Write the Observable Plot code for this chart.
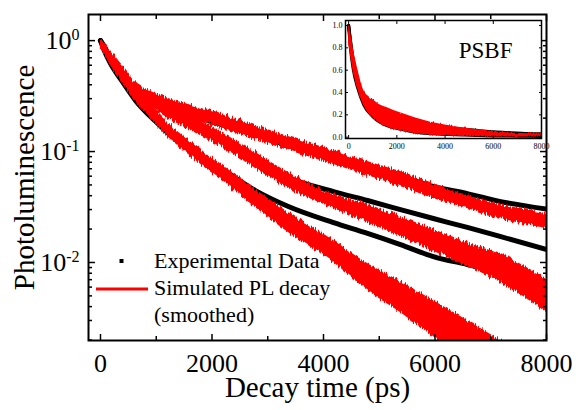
<!DOCTYPE html>
<html><head><meta charset="utf-8">
<script src="https://cdn.jsdelivr.net/npm/d3@7"></script>
<script src="https://cdn.jsdelivr.net/npm/@observablehq/plot@0.6"></script>
<style>
html,body{margin:0;padding:0;background:#fff;}
#wrap{position:relative;width:578px;height:410px;font-family:'Liberation Serif','Times New Roman',serif;}
#wrap > svg{position:absolute;left:0;top:0;}
#wrap > .inset{position:absolute;left:320px;top:14px;}
</style></head><body>
<div id="wrap"></div>
<script>
// ---- data (time in ps, PL normalised) ----
const time = [0, 60, 180, 380, 630, 990, 1220, 1580, 2170, 2780, 3370, 4180, 4790, 5380, 5970, 6580, 7180, 8000];
// experimental data (black)
const expA = [1.000, 0.9015, 0.6886, 0.5043, 0.3471, 0.2820, 0.2491, 0.2154, 0.1751, 0.1422, 0.1132, 0.0865, 0.0703, 0.0595, 0.0484, 0.0418, 0.0354, 0.0303];
const expB = [1.000, 0.8830, 0.7031, 0.5149, 0.3471, 0.2597, 0.2245, 0.1788, 0.1282, 0.0847, 0.0583, 0.0436, 0.0362, 0.0300, 0.0249, 0.0207, 0.0171, 0.0131];
const expC = [1.000, 0.8296, 0.6207, 0.4362, 0.2880, 0.1864, 0.1453, 0.1042, 0.0703, 0.0445, 0.0320, 0.0229, 0.0183, 0.0145, 0.0113, 0.00959, 0.00813, 0.00583];
// simulated PL decay (red, noisy band: upper and lower edge)
const sim1Hi = [1.021, 0.9594, 0.8126, 0.6079, 0.4184, 0.3400, 0.3002, 0.2651, 0.2154, 0.1715, 0.1365, 0.1021, 0.0813, 0.0660, 0.0515, 0.0401, 0.0333, 0.0276];
const sim1Lo = [0.8296, 0.7796, 0.6337, 0.4739, 0.3262, 0.2651, 0.2340, 0.1983, 0.1611, 0.1282, 0.1021, 0.0764, 0.0608, 0.0484, 0.0377, 0.0307, 0.0249, 0.0202];
const sim2Hi = [1.021, 0.9594, 0.7959, 0.5955, 0.4014, 0.3002, 0.2651, 0.2110, 0.1483, 0.0979, 0.0647, 0.0410, 0.0333, 0.0260, 0.0198, 0.0151, 0.0118, 0.00718];
const sim2Lo = [0.8296, 0.7796, 0.6207, 0.4642, 0.3130, 0.2340, 0.1983, 0.1578, 0.1109, 0.0703, 0.0464, 0.0307, 0.0229, 0.0171, 0.0126, 0.00920, 0.00660, 0.00354];
const sim3Hi = [1.021, 0.9397, 0.7636, 0.5480, 0.3619, 0.2340, 0.1788, 0.1256, 0.0764, 0.0455, 0.0282, 0.0158, 0.00979, 0.00674, 0.00455, 0.00300, 0.00198, 0.00118];
const sim3Lo = [0.8296, 0.7636, 0.5955, 0.4272, 0.2820, 0.1751, 0.1337, 0.0940, 0.0548, 0.0313, 0.0186, 0.0100, 0.00560, 0.00354, 0.00215, 0.00131, 0.000865, 0.000464];

// ticks
const xMajor = [0, 2000, 4000, 6000, 8000];
const xTickLabels = ["0", "2000", "4000", "6000", "8000"];
const xMinor = [1000, 3000, 5000, 7000];
const yMajor = [0.01, 0.1, 1];
const yTickExp = ["-2", "-1", "0"];
const yMinor = [0.002,0.003,0.004,0.005,0.006,0.007,0.008,0.009,0.02,0.03,0.04,0.05,0.06,0.07,0.08,0.09,0.2,0.3,0.4,0.5,0.6,0.7,0.8,0.9];
const insetXTicks = [0, 2000, 4000, 6000, 8000];
const insetXLabels = ["0", "2000", "4000", "6000", "8000"];
const insetYTicks = [0, 0.2, 0.4, 0.6, 0.8, 1.0];
const insetYLabels = ["0.0", "0.2", "0.4", "0.6", "0.8", "1.0"];

const RED = "#ff0000";
const FONT = "'Liberation Serif', 'Times New Roman', serif";
const xs = d => d;

const main = Plot.plot({
  width: 578, height: 410,
  marginLeft: 88, marginRight: 32, marginTop: 14, marginBottom: 70,
  style: {fontFamily: FONT, background: "white", color: "black", overflow: "visible"},
  x: {domain: [-215, 8000]},
  y: {type: "log", domain: [0.00198, 1.72]},
  marks: [
    Plot.line(time, {x: xs, y: expA, stroke: "black", strokeWidth: 5, curve: "monotone-x", clip: true}),
    Plot.line(time, {x: xs, y: expB, stroke: "black", strokeWidth: 5, curve: "monotone-x", clip: true}),
    Plot.line(time, {x: xs, y: expC, stroke: "black", strokeWidth: 5, curve: "monotone-x", clip: true}),
    Plot.areaY(time, {x: xs, y1: sim1Lo, y2: sim1Hi, fill: RED, curve: "monotone-x", clip: true}),
    Plot.areaY(time, {x: xs, y1: sim2Lo, y2: sim2Hi, fill: RED, curve: "monotone-x", clip: true}),
    Plot.areaY(time, {x: xs, y1: sim3Lo, y2: sim3Hi, fill: RED, curve: "monotone-x", clip: true}),
    // inward ticks on all four sides
    Plot.axisX(xMajor, {anchor: "bottom", tickSize: -6, strokeWidth: 1.5, fill: "none", label: null}),
    Plot.axisX(xMinor, {anchor: "bottom", tickSize: -4, strokeWidth: 1.5, fill: "none", label: null}),
    Plot.axisX(xMajor, {anchor: "top", tickSize: -6, strokeWidth: 1.5, fill: "none", label: null}),
    Plot.axisX(xMinor, {anchor: "top", tickSize: -4, strokeWidth: 1.5, fill: "none", label: null}),
    Plot.axisY(yMajor, {anchor: "left", tickSize: -7, strokeWidth: 1.5, fill: "none", label: null}),
    Plot.axisY(yMinor, {anchor: "left", tickSize: -4, strokeWidth: 1.5, fill: "none", label: null}),
    Plot.axisY(yMajor, {anchor: "right", tickSize: -7, strokeWidth: 1.5, fill: "none", label: null}),
    Plot.axisY(yMinor, {anchor: "right", tickSize: -4, strokeWidth: 1.5, fill: "none", label: null}),
    // tick labels
    Plot.axisX(xMajor, {anchor: "bottom", tickSize: 0, tickPadding: 13, fontSize: 26, label: null,
      tickFormat: d => xTickLabels[xMajor.indexOf(d)]}),
    Plot.axisY(yMajor, {anchor: "left", tickSize: 0, tickPadding: 9, fontSize: 26, label: null,
      tickFormat: d => "10|" + yTickExp[yMajor.indexOf(d)]}),
    // axis titles
    Plot.text(["Decay time (ps)"], {frameAnchor: "bottom", dy: 56, lineAnchor: "bottom", textAnchor: "middle", fontSize: 29}),
    Plot.text(["Photoluminescence"], {frameAnchor: "left", dx: -55, rotate: -90, lineAnchor: "bottom", textAnchor: "middle", fontSize: 29}),
    Plot.frame({stroke: "black", strokeWidth: 2})
  ]
});

// superscript exponents on the log axis labels
d3.select(main).selectAll('g[aria-label="y-axis tick label"] text').each(function () {
  const parts = this.textContent.split("|");
  const t = d3.select(this);
  t.text(null);
  t.append("tspan").text(parts[0]);
  t.append("tspan").attr("font-size", 16).attr("dy", "-0.55em").text(parts[1]);
});

// noisy (jagged) edge for the simulated bands: a purely visual texture
function addJagged(svg, id, scale) {
  const defs = d3.select(svg).insert("defs", ":first-child");
  const f = defs.append("filter").attr("id", id)
    .attr("x", "-2%").attr("y", "-10%").attr("width", "104%").attr("height", "120%");
  f.append("feTurbulence").attr("type", "fractalNoise").attr("baseFrequency", "0.7 0.03")
    .attr("numOctaves", 2).attr("seed", 7).attr("result", "n");
  f.append("feColorMatrix").attr("in", "n").attr("type", "matrix")
    .attr("values", "0 0 0 0 0.5  1 0 0 0 0  0 0 0 0 0  0 0 0 0 1").attr("result", "m");
  f.append("feDisplacementMap").attr("in", "SourceGraphic").attr("in2", "m")
    .attr("scale", scale).attr("xChannelSelector", "R").attr("yChannelSelector", "G");
  d3.select(svg).selectAll('g[aria-label="area"] path').attr("filter", `url(#${id})`);
}
addJagged(main, "jagMain", 9);

const inset = Plot.plot({
  width: 240, height: 145,
  marginLeft: 25, marginRight: 19, marginTop: 6, marginBottom: 21,
  style: {fontFamily: FONT, background: "transparent", color: "black", overflow: "visible"},
  x: {domain: [-130, 8000]},
  y: {domain: [-0.012, 1.045]},
  marks: [
    Plot.frame({fill: "white", stroke: "none"}),
    Plot.line(time, {x: xs, y: expA, stroke: "black", strokeWidth: 3, curve: "monotone-x", clip: true}),
    Plot.line(time, {x: xs, y: expB, stroke: "black", strokeWidth: 3, curve: "monotone-x", clip: true}),
    Plot.line(time, {x: xs, y: expC, stroke: "black", strokeWidth: 3, curve: "monotone-x", clip: true}),
    Plot.areaY(time, {x: xs, y1: sim3Lo, y2: sim1Hi, fill: RED, curve: "monotone-x", clip: true}),
    Plot.axisX(insetXTicks, {anchor: "bottom", tickSize: -3, fill: "none", label: null}),
    Plot.axisX(insetXTicks, {anchor: "top", tickSize: -3, fill: "none", label: null}),
    Plot.axisY(insetYTicks, {anchor: "left", tickSize: -3, fill: "none", label: null}),
    Plot.axisY(insetYTicks, {anchor: "right", tickSize: -3, fill: "none", label: null}),
    Plot.axisX(insetXTicks, {anchor: "bottom", tickSize: 0, tickPadding: 5, fontSize: 8, label: null,
      tickFormat: d => insetXLabels[insetXTicks.indexOf(d)]}),
    Plot.axisY(insetYTicks, {anchor: "left", tickSize: 0, tickPadding: 3, fontSize: 8, label: null,
      tickFormat: d => insetYLabels[insetYTicks.indexOf(d)]}),
    Plot.text(["PSBF"], {frameAnchor: "top-right", dx: -29, dy: 37, lineAnchor: "bottom", textAnchor: "end", fontSize: 23}),
    Plot.frame({stroke: "black", strokeWidth: 1.5})
  ]
});
inset.classList.add("inset");
addJagged(inset, "jagInset", 3);

const wrap = document.getElementById("wrap");
wrap.appendChild(main);
wrap.appendChild(inset);

// legend
const legendLabels = ["Experimental Data", "Simulated PL decay", "(smoothed)"];
const leg = d3.select(wrap).append("svg")
  .attr("width", 578).attr("height", 410)
  .style("position", "absolute").style("left", 0).style("top", 0)
  .style("font-family", FONT);
leg.append("rect").attr("x", 119.5).attr("y", 259).attr("width", 4).attr("height", 4).attr("fill", "black");
leg.append("line").attr("x1", 96).attr("x2", 148).attr("y1", 289).attr("y2", 289).attr("stroke", RED).attr("stroke-width", 3);
leg.selectAll("text.l").data(legendLabels).join("text")
  .attr("x", 154).attr("y", (d, i) => 268 + i * 26.8)
  .attr("font-size", 22).attr("fill", "black").text(d => d);
</script>
</body></html>
